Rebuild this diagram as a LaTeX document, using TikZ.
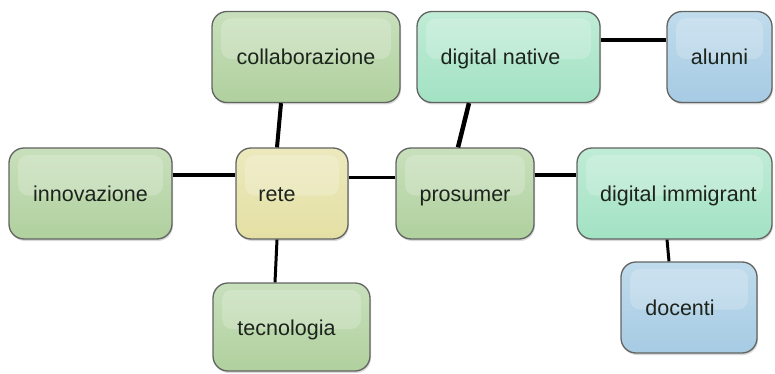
\documentclass[tikz,border=0pt]{standalone}
\usepackage{fontspec}
\setmainfont{Liberation Sans}
\usetikzlibrary{shadows}
\definecolor{boxline}{RGB}{98,100,98}
\definecolor{textcol}{RGB}{28,36,28}
\definecolor{vgreen}{RGB}{176,208,158}
\definecolor{vgreenl}{RGB}{200,224,188}
\definecolor{vyellow}{RGB}{228,224,164}
\definecolor{vyellowl}{RGB}{236,233,190}
\definecolor{vmint}{RGB}{163,226,196}
\definecolor{vmintl}{RGB}{192,236,214}
\definecolor{vblue}{RGB}{166,203,227}
\definecolor{vbluel}{RGB}{192,219,236}

\begin{document}
\begin{tikzpicture}
	[x=1pt,y=-1pt,
	box/.style={draw=boxline,line width=1.3pt,rounded corners=15pt,
		minimum height=91pt,inner sep=0pt,text=textcol,
		text height=20pt,text depth=4pt,
		font=\fontsize{21.5}{25}\selectfont,
		drop shadow={opacity=0.3,shadow xshift=1pt,shadow yshift=-2pt},
		path picture={\fill[white,opacity=0.2,rounded corners=10pt]
			([shift={(9pt,-7pt)}]path picture bounding box.north west) rectangle
			([shift={(-9pt,-2pt)}]path picture bounding box.east);}},
	greenbox/.style={box,top color=vgreenl,bottom color=vgreen},
	yellowbox/.style={box,top color=vyellowl,bottom color=vyellow},
	mintbox/.style={box,top color=vmintl,bottom color=vmint},
	bluebox/.style={box,top color=vbluel,bottom color=vblue},
	link/.style={line width=#1,black}]
	\useasboundingbox (0,0) rectangle (775,374);

	\node[greenbox,minimum width=188pt] (collab) at (306,57) {collaborazione};
	\node[mintbox,minimum width=183pt] (native) at (508.5,57) {digital native\hspace*{16pt}};
	\node[bluebox,minimum width=105pt] (alunni) at (719.5,57) {alunni};
	\node[greenbox,minimum width=163pt] (innov) at (90.5,193.5) {innovazione};
	\node[yellowbox,minimum width=112pt] (rete) at (292,193.5) {rete\hspace*{30pt}};
	\node[greenbox,minimum width=138pt] (prosumer) at (465,193.5) {prosumer};
	\node[mintbox,minimum width=195pt] (immigrant) at (674.5,193.5) {\hspace*{8pt}digital immigrant};
	\node[greenbox,minimum width=157pt,minimum height=88pt] (tecno) at (291.5,327) {tecnologia\hspace*{10pt}};
	\node[bluebox,minimum width=136pt] (docenti) at (689,307.5) {docenti\hspace*{18pt}};

	\draw[link=4.5pt] ([yshift=18.5pt]innov.east) -- ([yshift=18.5pt]rete.west);
	\draw[link=4pt] ([xshift=-25pt]collab.south) -- ([xshift=-15pt]rete.north);
	\draw[link=3pt] ([xshift=-15pt]rete.south) -- ([xshift=-16.5pt]tecno.north);
	\draw[link=3pt] ([yshift=16.5pt]rete.east) -- ([yshift=16.5pt]prosumer.west);
	\draw[link=4.5pt] ([xshift=-7pt]prosumer.north) -- ([xshift=-39.5pt]native.south);
	\draw[link=3.5pt] ([yshift=17pt]native.east) -- ([yshift=17pt]alunni.west);
	\draw[link=3.5pt] ([yshift=18.5pt]prosumer.east) -- ([yshift=18.5pt]immigrant.west);
	\draw[link=3pt] ([xshift=-7.5pt]immigrant.south) -- ([xshift=-20pt]docenti.north);
\end{tikzpicture}
\end{document}
